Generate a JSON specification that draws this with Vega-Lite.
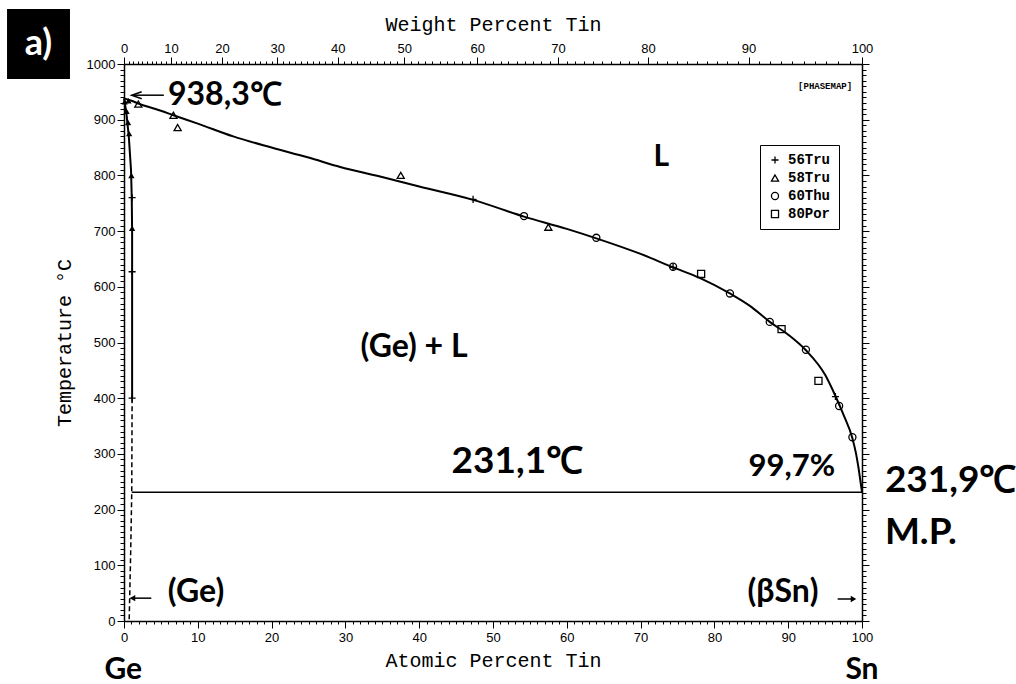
{
  "$schema": "https://vega.github.io/schema/vega-lite/v6.json",
  "width": 738,
  "height": 557,
  "autosize": {"type": "none"},
  "padding": {"left": 124, "top": 64, "right": 154, "bottom": 63},
  "background": "white",
  "datasets": {
    "liquidus": [
      {"x": 0, "y": 938.3}, {"x": 1.0, "y": 934}, {"x": 1.94, "y": 929}, {"x": 5, "y": 916},
      {"x": 6.7, "y": 908}, {"x": 10, "y": 893}, {"x": 14.8, "y": 870}, {"x": 20, "y": 850},
      {"x": 25, "y": 832}, {"x": 29.3, "y": 815}, {"x": 34.7, "y": 798}, {"x": 40, "y": 780},
      {"x": 47.3, "y": 756}, {"x": 54.2, "y": 726}, {"x": 60, "y": 704}, {"x": 64, "y": 687},
      {"x": 70, "y": 659}, {"x": 74.4, "y": 635}, {"x": 78, "y": 616}, {"x": 82.1, "y": 588},
      {"x": 85, "y": 564}, {"x": 87.5, "y": 537}, {"x": 90, "y": 514}, {"x": 92.4, "y": 486},
      {"x": 95, "y": 442}, {"x": 96.4, "y": 404}, {"x": 97.5, "y": 370}, {"x": 98.7, "y": 328},
      {"x": 99.2, "y": 300}, {"x": 99.5, "y": 277}, {"x": 99.8, "y": 250}, {"x": 100, "y": 231.9}
    ],
    "solidus": [
      {"i": 0, "x": 0, "y": 938.3}, {"i": 1, "x": 0.3, "y": 915}, {"i": 2, "x": 0.65, "y": 870},
      {"i": 3, "x": 0.95, "y": 810}, {"i": 4, "x": 1.05, "y": 760}, {"i": 5, "x": 1.1, "y": 700},
      {"i": 6, "x": 1.1, "y": 400}
    ],
    "solvus": [
      {"i": 0, "x": 1.1, "y": 400}, {"i": 1, "x": 1.05, "y": 231.1}, {"i": 2, "x": 0.9, "y": 120},
      {"i": 3, "x": 0.7, "y": 0}
    ],
    "eutectic": [{"x": 1.05, "x2": 100, "y": 231.1}],
    "points": [
      {"x": 47.3, "y": 757, "src": "56Tru"}, {"x": 74.4, "y": 635, "src": "56Tru"},
      {"x": 96.4, "y": 403, "src": "56Tru"}, {"x": 1.1, "y": 760, "src": "56Tru"},
      {"x": 1.1, "y": 627, "src": "56Tru"}, {"x": 1.1, "y": 400, "src": "56Tru"},
      {"x": 1.94, "y": 928, "src": "58Tru"}, {"x": 6.7, "y": 908, "src": "58Tru"},
      {"x": 7.27, "y": 886, "src": "58Tru"}, {"x": 37.5, "y": 800, "src": "58Tru"},
      {"x": 57.5, "y": 707, "src": "58Tru"},
      {"x": 54.2, "y": 727, "src": "60Thu"}, {"x": 64.0, "y": 688, "src": "60Thu"},
      {"x": 74.4, "y": 636, "src": "60Thu"}, {"x": 82.1, "y": 588, "src": "60Thu"},
      {"x": 87.5, "y": 537, "src": "60Thu"}, {"x": 92.4, "y": 487, "src": "60Thu"},
      {"x": 96.9, "y": 386, "src": "60Thu"}, {"x": 98.7, "y": 330, "src": "60Thu"},
      {"x": 78.2, "y": 623, "src": "80Por"}, {"x": 89.1, "y": 524, "src": "80Por"},
      {"x": 94.1, "y": 431, "src": "80Por"}
    ],
    "gePoints": [
      {"x": 0.1, "y": 932}, {"x": 0.35, "y": 915}, {"x": 0.55, "y": 895}, {"x": 0.7, "y": 875},
      {"x": 1.0, "y": 800}, {"x": 1.1, "y": 705}, {"x": 0.6, "y": 934}
    ],
    "arrows": [
      {"x": 1.3, "x2": 5.4, "y": 944}, {"x": 0.9, "x2": 3.7, "y": 41}, {"x": 96.7, "x2": 99.0, "y": 39.5}
    ],
    "headOpen": [{"x": 1.72, "y": 944}],
    "headLeft": [{"x": 1.15, "y": 41}],
    "headRight": [{"x": 98.85, "y": 39.5}],
    "t32left": [{"x": 5.96, "y": 944, "text": "938,3℃"}],
    "t37center": [{"x": 53.3, "y": 285, "text": "231,1℃"}],
    "t38left": [{"x": 103.1, "y": 251, "text": "231,9℃"}, {"x": 103.1, "y": 158, "text": "M.P."}],
    "t31center": [{"x": 90.5, "y": 276, "text": "99,7%"}],
    "t28center": [{"x": 72.8, "y": 833, "text": "L"}],
    "t33center": [
      {"x": 39.3, "y": 492, "text": "(Ge) + L"}, {"x": 9.76, "y": 52, "text": "(Ge)"},
      {"x": 89.3, "y": 52, "text": "(βSn)"}
    ],
    "t31bottom": [{"x": -0.1, "y": -88, "text": "Ge"}, {"x": 100, "y": -88, "text": "Sn"}],
    "stamp": [{"x": 95, "y": 960, "text": "[PHASEMAP]"}],
    "panelBox": [{"x": -15.85, "x2": -7.32, "y": 973, "y2": 1098.7}],
    "panelText": [{"x": -11.6, "y": 1036, "text": "a)"}]
  },
  "encoding": {
    "x": {"field": "x", "type": "quantitative", "scale": {"domain": [0, 100], "nice": false, "zero": false}, "axis": null},
    "y": {"field": "y", "type": "quantitative", "scale": {"domain": [0, 1000], "nice": false, "zero": false}, "axis": null}
  },
  "layer": [
    {
      "data": {"name": "liquidus"},
      "mark": {"type": "line", "color": "black", "strokeWidth": 2, "interpolate": "monotone"},
      "encoding": {
        "x": {"field": "x", "type": "quantitative", "scale": {"domain": [0, 100], "nice": false, "zero": false},
          "axis": {"orient": "bottom", "title": "Atomic Percent Tin", "tickCount": 100, "format": "d",
            "labelExpr": "datum.value % 10 === 0 ? datum.label : ''",
            "tickSize": {"condition": {"test": "datum.value % 10 === 0", "value": 7}, "value": 3},
            "labelPadding": 3, "titlePadding": 6, "titleColor": "black"}},
        "y": {"field": "y", "type": "quantitative", "scale": {"domain": [0, 1000], "nice": false, "zero": false},
          "axis": {"orient": "left", "title": "Temperature °C", "tickCount": 100, "format": "d",
            "labelExpr": "datum.value % 100 === 0 ? datum.label : ''",
            "tickSize": {"condition": {"test": "datum.value % 100 === 0", "value": 7}, "value": 4},
            "labelPadding": 2, "titlePadding": 12, "titleColor": "black"}}
      }
    },
    {
      "data": {"name": "solidus"},
      "mark": {"type": "line", "color": "black", "strokeWidth": 2},
      "encoding": {"order": {"field": "i", "type": "quantitative"}}
    },
    {
      "data": {"name": "solvus"},
      "mark": {"type": "line", "color": "black", "strokeWidth": 1.5, "strokeDash": [5, 3]},
      "encoding": {"order": {"field": "i", "type": "quantitative"}}
    },
    {
      "data": {"name": "eutectic"},
      "mark": {"type": "rule", "color": "black", "strokeWidth": 1.5},
      "encoding": {
        "x": {"field": "x", "type": "quantitative", "scale": {"domain": [0, 100], "nice": false, "zero": false},
          "axis": {"orient": "top", "title": "Weight Percent Tin", "titleColor": "black",
            "values": [0,0.6142,1.2332,1.8571,2.4859,3.1197,3.7585,4.4024,5.0515,5.7058,6.3654,7.0303,7.7006,8.3764,9.0578,9.7448,10.4375,11.1359,11.8403,12.5503,13.2665,13.9887,14.717,15.4515,16.1924,16.9395,17.6932,18.4533,19.2201,19.9937,20.774,21.5611,22.3553,23.1566,23.965,24.7805,25.6039,26.4342,27.2723,28.1177,28.9708,29.8328,30.7022,31.5796,32.4653,33.3592,34.2618,35.1728,36.0928,37.0211,37.9585,38.9047,39.8604,40.8259,41.8007,42.7846,43.7788,44.7825,45.7966,46.8209,47.8559,48.9003,49.9561,51.0227,52.0998,53.1889,54.2889,55.4006,56.5242,57.6596,58.807,59.9667,61.1388,62.3236,63.5217,64.7326,65.9568,67.1946,68.4463,69.712,70.9918,72.2862,73.5954,74.9194,76.2587,77.6138,78.9846,80.3714,81.7742,83.1937,84.6306,86.0845,87.556,89.0453,90.5528,92.0788,93.6238,95.1883,96.772,98.3758,100],
            "labelExpr": "round(100*datum.value/(61.1827+0.388173*datum.value)) % 10 === 0 ? format(round(100*datum.value/(61.1827+0.388173*datum.value)), 'd') : ''",
            "tickSize": {"condition": {"test": "round(100*datum.value/(61.1827+0.388173*datum.value)) % 10 === 0", "value": 7}, "value": 3},
            "labelPadding": 2, "titlePadding": 8}},
        "x2": {"field": "x2"},
        "y": {"field": "y", "type": "quantitative", "scale": {"domain": [0, 1000], "nice": false, "zero": false},
          "axis": {"orient": "right", "title": null, "tickCount": 100, "labels": false,
            "tickSize": {"condition": {"test": "datum.value % 100 === 0", "value": 7}, "value": 4}}}
      }
    },
    {
      "data": {"name": "gePoints"},
      "mark": {"type": "point", "shape": "triangle-up", "filled": true, "color": "black", "size": 40, "opacity": 1}
    },
    {
      "data": {"name": "points"},
      "mark": {"type": "point", "filled": false, "color": "black", "strokeWidth": 1.3, "size": 50, "opacity": 1},
      "encoding": {
        "shape": {"field": "src", "type": "nominal",
          "scale": {"domain": ["56Tru", "58Tru", "60Thu", "80Por"], "range": ["M-1,0H1M0,-1V1", "triangle-up", "circle", "square"]},
          "legend": {"title": null, "orient": "none", "legendX": 636, "legendY": 81, "strokeColor": "black",
            "padding": 8, "rowPadding": 4, "symbolStrokeColor": "black", "symbolStrokeWidth": 1.3, "symbolSize": 50,
            "symbolFillColor": "transparent", "labelFont": "Liberation Mono", "labelFontSize": 14, "labelFontWeight": "bold",
            "labelColor": "black", "labelOffset": 6}}
      }
    },
    {
      "data": {"name": "arrows"},
      "mark": {"type": "rule", "color": "black", "strokeWidth": 1.5},
      "encoding": {"x2": {"field": "x2"}}
    },
    {
      "data": {"name": "headOpen"},
      "mark": {"type": "point", "shape": "M1,-0.7L-1,0L1,0.7", "filled": false, "color": "black", "strokeWidth": 1.5, "size": 100, "opacity": 1}
    },
    {
      "data": {"name": "headLeft"},
      "mark": {"type": "point", "shape": "triangle-left", "filled": true, "color": "black", "size": 40, "opacity": 1}
    },
    {
      "data": {"name": "headRight"},
      "mark": {"type": "point", "shape": "triangle-right", "filled": true, "color": "black", "size": 40, "opacity": 1}
    },
    {
      "data": {"name": "t32left"},
      "mark": {"type": "text", "font": "Lato", "fontWeight": "bold", "fontSize": 32, "align": "left", "baseline": "middle", "color": "black"},
      "encoding": {"text": {"field": "text"}}
    },
    {
      "data": {"name": "t37center"},
      "mark": {"type": "text", "font": "Lato", "fontWeight": "bold", "fontSize": 37, "align": "center", "baseline": "middle", "color": "black"},
      "encoding": {"text": {"field": "text"}}
    },
    {
      "data": {"name": "t38left"},
      "mark": {"type": "text", "font": "Lato", "fontWeight": "bold", "fontSize": 37, "align": "left", "baseline": "middle", "color": "black"},
      "encoding": {"text": {"field": "text"}}
    },
    {
      "data": {"name": "t31center"},
      "mark": {"type": "text", "font": "Lato", "fontWeight": "bold", "fontSize": 31, "align": "center", "baseline": "middle", "color": "black"},
      "encoding": {"text": {"field": "text"}}
    },
    {
      "data": {"name": "t28center"},
      "mark": {"type": "text", "font": "Lato", "fontWeight": "bold", "fontSize": 30, "align": "center", "baseline": "middle", "color": "black"},
      "encoding": {"text": {"field": "text"}}
    },
    {
      "data": {"name": "t33center"},
      "mark": {"type": "text", "font": "Lato", "fontWeight": "bold", "fontSize": 32, "align": "center", "baseline": "middle", "color": "black"},
      "encoding": {"text": {"field": "text"}}
    },
    {
      "data": {"name": "t31bottom"},
      "mark": {"type": "text", "font": "Lato", "fontWeight": "bold", "fontSize": 30, "align": "center", "baseline": "middle", "color": "black"},
      "encoding": {"text": {"field": "text"}}
    },
    {
      "data": {"name": "stamp"},
      "mark": {"type": "text", "font": "Liberation Mono", "fontWeight": "bold", "fontSize": 9, "align": "center", "baseline": "middle", "color": "black"},
      "encoding": {"text": {"field": "text"}}
    },
    {
      "data": {"name": "panelBox"},
      "mark": {"type": "rect", "color": "black"},
      "encoding": {"x2": {"field": "x2"}, "y2": {"field": "y2"}}
    },
    {
      "data": {"name": "panelText"},
      "mark": {"type": "text", "font": "Lato", "fontWeight": "bold", "fontSize": 36, "align": "center", "baseline": "middle", "color": "white"},
      "encoding": {"text": {"field": "text"}}
    }
  ],
  "resolve": {"axis": {"x": "independent", "y": "independent"}},
  "config": {
    "view": {"stroke": null},
    "axis": {
      "domainColor": "black", "domainWidth": 1.5, "tickColor": "black", "tickWidth": 1,
      "labelColor": "black", "titleColor": "black", "labelFont": "Liberation Sans", "labelFontSize": 13,
      "titleFont": "Liberation Mono", "titleFontSize": 20, "titleFontWeight": "normal",
      "grid": false, "labelFlush": false, "labelOverlap": false, "labelBound": false
    }
  }
}
